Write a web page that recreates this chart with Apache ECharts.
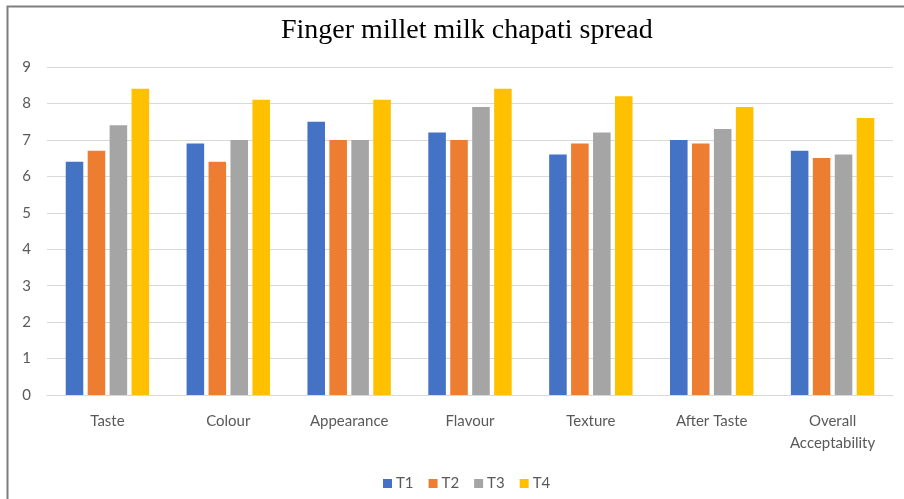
<!DOCTYPE html>
<html>
<head>
<meta charset="utf-8">
<script src="https://cdn.jsdelivr.net/npm/echarts@6/dist/echarts.min.js"></script>
<style>
  html, body { margin: 0; padding: 0; background: #ffffff; }
  #chart { width: 904px; height: 499px; }
</style>
</head>
<body>
<div id="chart"></div>
<script>
// Sensory attributes scored for each treatment
const categories = ['Taste', 'Colour', 'Appearance', 'Flavour', 'Texture', 'After Taste', 'Overall\nAcceptability'];
const seriesNames = ['T1', 'T2', 'T3', 'T4'];
const t1 = [6.4, 6.9, 7.5, 7.2, 6.6, 7.0, 6.7];
const t2 = [6.7, 6.4, 7.0, 7.0, 6.9, 6.9, 6.5];
const t3 = [7.4, 7.0, 7.0, 7.9, 7.2, 7.3, 6.6];
const t4 = [8.4, 8.1, 8.1, 8.4, 8.2, 7.9, 7.6];
const yTicks = { min: 0, max: 9, interval: 1 };

const colors = ['#4472c4', '#ed7d31', '#a5a5a5', '#ffc000'];
const values = [t1, t2, t3, t4];
const labelFont = 'Lato, "Liberation Sans", sans-serif';

const chart = echarts.init(document.getElementById('chart'), null, { renderer: 'canvas' });

chart.setOption({
  animation: false,
  backgroundColor: '#ffffff',
  color: colors,
  title: {
    text: 'Finger millet milk chapati spread',
    left: 276,
    top: 12,
    textStyle: {
      fontFamily: '"Liberation Serif", "Times New Roman", serif',
      fontWeight: 'normal',
      fontSize: 28,
      color: '#000000'
    }
  },
  legend: {
    data: seriesNames,
    bottom: 3,
    left: 378,
    icon: 'rect',
    itemWidth: 9,
    itemHeight: 9,
    itemGap: 15,
    textStyle: { fontFamily: labelFont, fontSize: 15, color: '#595959', padding: [0, 0, 0, -1] }
  },
  grid: { left: 47, right: 11, top: 67, bottom: 104 },
  xAxis: {
    type: 'category',
    data: categories,
    axisLine: { show: true, lineStyle: { color: '#d9d9d9', width: 1 } },
    axisTick: { show: false },
    axisLabel: {
      interval: 0,
      margin: 15,
      fontFamily: labelFont,
      fontSize: 15,
      lineHeight: 22,
      color: '#595959'
    }
  },
  yAxis: {
    type: 'value',
    min: yTicks.min,
    max: yTicks.max,
    interval: yTicks.interval,
    axisLine: { show: false },
    axisTick: { show: false },
    splitLine: { lineStyle: { color: '#d9d9d9', width: 1 } },
    axisLabel: { margin: 16, fontFamily: labelFont, fontSize: 15, color: '#595959' }
  },
  series: seriesNames.map((name, i) => ({
    name: name,
    type: 'bar',
    data: values[i],
    barGap: '25%',
    barCategoryGap: '31%',
    itemStyle: { color: colors[i] }
  })),
  graphic: [
    {
      type: 'polyline',
      shape: { points: [[7.5, 499], [7.5, 6.5], [904, 6.5]] },
      style: { stroke: '#7f7f7f', lineWidth: 2, fill: null },
      silent: true
    }
  ]
});
</script>
</body>
</html>
